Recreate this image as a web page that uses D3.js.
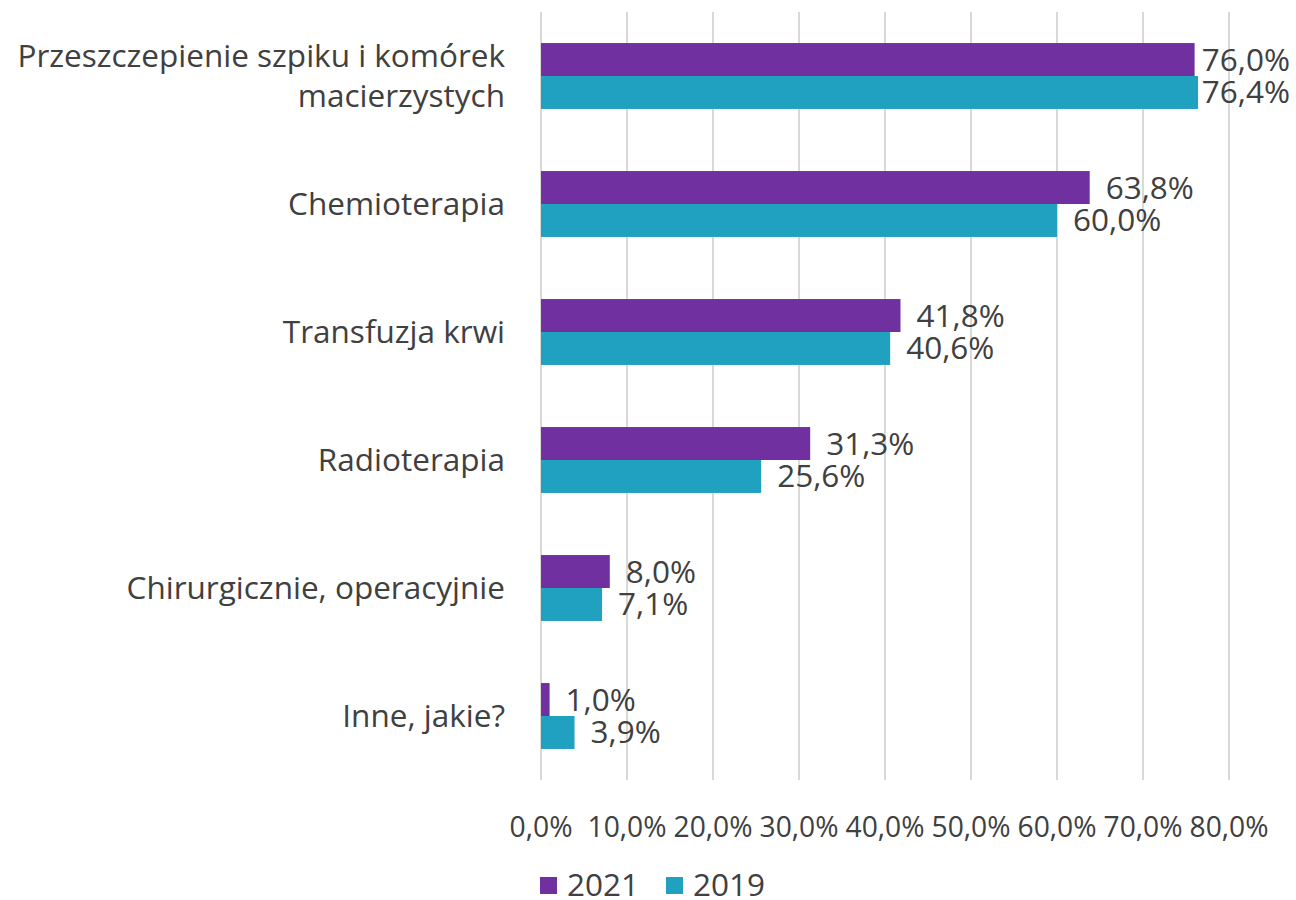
<!DOCTYPE html>
<html>
<head>
<meta charset="utf-8">
<script src="https://cdn.jsdelivr.net/npm/d3@7"></script>
<style>
  body { margin: 0; background: #fff; }
  text { font-family: "Open Sans", sans-serif; fill: #404040; }
</style>
</head>
<body>
<div class="chart"></div>
<script>
const categories = [
    ["Przeszczepienie szpiku i komórek", "macierzystych"],
    ["Chemioterapia"],
    ["Transfuzja krwi"],
    ["Radioterapia"],
    ["Chirurgicznie, operacyjnie"],
    ["Inne, jakie?"]
]
const values2021 = [76.0, 63.8, 41.8, 31.3, 8.0, 1.0]
const values2019 = [76.4, 60.0, 40.6, 25.6, 7.1, 3.9]
const seriesNames = ["2021", "2019"]
const seriesColors = ["#7030a0", "#21a1c0"]
const ticks = [0, 10, 20, 30, 40, 50, 60, 70, 80]

const width = 1296
const height = 900
const margin = { top: 12, left: 541 }
const fontSize = 31.5

const fmt = v => v.toFixed(1).replace(".", ",") + "%"

const svg = d3.select(".chart").append("svg")
    .attr("width", width)
    .attr("height", height)

const g = svg.append("g")
    .attr("transform", "translate(" + margin.left + "," + margin.top + ")")

const xScale = d3.scaleLinear().domain([0, 80]).range([0, 688])

const yScale = d3.scaleBand()
    .domain(d3.range(categories.length))
    .range([0, 768])
    .paddingInner(0.485)
    .paddingOuter(0.2425)

const sub = d3.scaleBand().domain([0, 1]).range([0, yScale.bandwidth()])

// gridlines
g.selectAll("line.grid")
    .data(ticks)
    .enter()
    .append("line")
    .attr("x1", d => xScale(d))
    .attr("x2", d => xScale(d))
    .attr("y1", 0)
    .attr("y2", 768)
    .attr("stroke", "#d9d9d9")
    .attr("stroke-width", 2)

// tick labels (squeezed like the original)
g.selectAll("text.tick")
    .data(ticks)
    .enter()
    .append("text")
    .attr("x", d => xScale(d))
    .attr("y", 825)
    .attr("text-anchor", "middle")
    .attr("textLength", d => d === 0 ? 63 : 79)
    .attr("lengthAdjust", "spacingAndGlyphs")
    .style("font-size", "30px")
    .text(d => fmt(d))

const series = [values2021, values2019]
series.forEach((vals, s) => {
    g.selectAll("rect.s" + s)
        .data(vals)
        .enter()
        .append("rect")
        .attr("x", xScale(0))
        .attr("y", (d, i) => yScale(i) + sub(s))
        .attr("width", d => xScale(d) - xScale(0))
        .attr("height", sub.bandwidth())
        .attr("fill", seriesColors[s])

    g.selectAll("text.v" + s)
        .data(vals)
        .enter()
        .append("text")
        .attr("x", d => xScale(d) + 16)
        .attr("y", (d, i) => yScale(i) + sub(s) + sub.bandwidth() / 2 + 11)
        .style("font-size", fontSize + "px")
        .text(d => fmt(d))
        .each(function () {
            // keep labels inside the picture
            const w = this.getComputedTextLength()
            const maxX = width - 6 - margin.left - w
            if (+this.getAttribute("x") > maxX) this.setAttribute("x", maxX)
        })
})

// category labels
categories.forEach((lines, i) => {
    const cy = yScale(i) + yScale.bandwidth() / 2
    const t = g.append("text")
        .attr("text-anchor", "end")
        .style("font-size", fontSize + "px")
    lines.forEach((line, k) => {
        t.append("tspan")
            .attr("x", -36)
            .attr("y", cy + 11 + (k - (lines.length - 1) / 2) * 40)
            .text(line)
    })
})

// legend
const legend = svg.append("g").attr("transform", "translate(540,885)")
seriesNames.forEach((name, s) => {
    const lg = legend.append("g").attr("transform", "translate(" + (s * 126) + ",0)")
    lg.append("rect")
        .attr("x", 0).attr("y", -8)
        .attr("width", 17).attr("height", 17)
        .attr("fill", seriesColors[s])
    lg.append("text")
        .attr("x", 27).attr("y", 11)
        .style("font-size", fontSize + "px")
        .text(name)
})
</script>
</body>
</html>
